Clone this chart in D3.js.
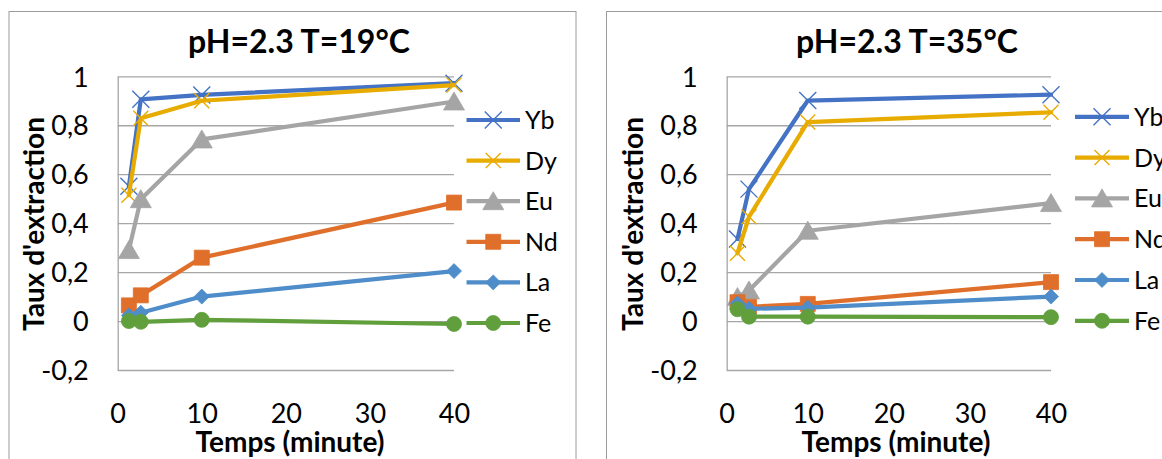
<!DOCTYPE html>
<html><head><meta charset="utf-8">
<script src="https://cdn.jsdelivr.net/npm/d3@7"></script>
<style>
html,body{margin:0;padding:0;background:#fff;overflow:hidden}
svg{display:block}
text{font-family:Lato,"Open Sans",sans-serif;fill:#000}
</style></head>
<body>
<svg id="c" width="1162" height="459"></svg>
<script>
// ---- data ----
const times = [1.33, 2.75, 10, 40];
const seriesNames = ["Yb", "Dy", "Eu", "Nd", "La", "Fe"];
const yTickValues = [-0.2, 0, 0.2, 0.4, 0.6, 0.8, 1];
const yTickLabels = ["-0,2", "0", "0,2", "0,4", "0,6", "0,8", "1"];
const xTickValues = [0, 10, 20, 30, 40];
const xTickLabels = ["0", "10", "20", "30", "40"];

const title19 = "pH=2.3 T=19°C";
const Yb19 = [0.551, 0.906, 0.924, 0.972];
const Dy19 = [0.514, 0.829, 0.900, 0.964];
const Eu19 = [0.290, 0.498, 0.742, 0.897];
const Nd19 = [0.064, 0.105, 0.259, 0.484];
const La19 = [0.023, 0.034, 0.100, 0.204];
const Fe19 = [0.000, -0.003, 0.005, -0.012];

const title35 = "pH=2.3 T=35°C";
const Yb35 = [0.335, 0.539, 0.901, 0.925];
const Dy35 = [0.277, 0.426, 0.813, 0.853];
const Eu35 = [0.098, 0.125, 0.369, 0.482];
const Nd35 = [0.077, 0.058, 0.070, 0.159];
const La35 = [0.072, 0.050, 0.055, 0.100];
const Fe35 = [0.048, 0.018, 0.018, 0.016];

const xTitle = "Temps (minute)";
const yTitle = "Taux d'extraction";

// ---- styles ----
const colors = {Yb:"#4472C4", Dy:"#E8AB00", Eu:"#A5A5A5", Nd:"#DF6F2A", La:"#4E8DC9", Fe:"#609F3C"};
const markers = {Yb:"x", Dy:"x", Eu:"tri", Nd:"sq", La:"dia", Fe:"circ"};

function markerPath(type, name){
  switch(type){
    case "x": { const r = name === "Yb" ? 8.5 : 7.5; return `M${-r},${-r}L${r},${r}M${-r},${r}L${r},${-r}`; }
    case "tri": return "M0,-9.5L10.5,8.5L-10.5,8.5Z";
    case "sq": return "M-7.5,-7.5H7.5V7.5H-7.5Z";
    case "dia": return "M0,-7.5L7.5,0L0,7.5L-7.5,0Z";
    case "circ": { const r=7.5; return `M${r},0A${r},${r} 0 1,1 ${-r},0A${r},${r} 0 1,1 ${r},0Z`; }
  }
}
function drawMarker(g, name, color, x, y){
  const type = markers[name];
  const p = g.append("path").attr("d", markerPath(type, name)).attr("transform", `translate(${x},${y})`);
  if(type === "x") p.attr("fill","none").attr("stroke",color).attr("stroke-width",1.4);
  else p.attr("fill",color).attr("stroke",color).attr("stroke-width",0.8);
}

const svg = d3.select("#c");

function chart(cfg){
  const g = svg.append("g");
  // frame
  g.append("rect").attr("x",cfg.frameX).attr("y",11.5).attr("width",567).attr("height",470)
    .attr("fill","#fff").attr("stroke","#9c9c9c").attr("stroke-width",1);

  const x = d3.scaleLinear().domain([0,40]).range([cfg.px0, cfg.px1]);
  const y = d3.scaleLinear().domain([-0.2,1]).range([370, 76.3]);

  // y axis with gridlines
  const ya = g.append("g").attr("transform",`translate(${cfg.px0},0)`)
    .call(d3.axisLeft(y).tickValues(yTickValues).tickFormat((d,i)=>yTickLabels[i])
      .tickSizeInner(-(cfg.px1-cfg.px0)).tickSizeOuter(0).tickPadding(29));
  ya.select(".domain").attr("stroke","#a6a6a6").attr("stroke-width",1.3);
  ya.selectAll(".tick line").attr("stroke","#a6a6a6").attr("stroke-width",1.3);
  ya.selectAll(".tick text").attr("font-size",27).attr("dy","0.36em").attr("fill","#000")
    .style("font-family","Lato");

  // x axis labels
  const xa = g.append("g").attr("transform",`translate(0,370)`)
    .call(d3.axisBottom(x).tickValues(xTickValues).tickFormat((d,i)=>xTickLabels[i]).tickSize(0));
  xa.select(".domain").remove();
  xa.selectAll(".tick text").attr("font-size",27).attr("y",53).attr("dy",0).attr("fill","#000")
    .style("font-family","Lato");

  // titles
  g.append("text").attr("x",cfg.titleX).attr("y",53).attr("text-anchor","middle")
    .attr("font-size",32).attr("font-weight","bold").text(cfg.title);
  g.append("text").attr("x",cfg.xTitleX).attr("y",452).attr("text-anchor","middle")
    .attr("font-size",28).attr("font-weight","bold").text(xTitle);
  g.append("text").attr("transform",`translate(${cfg.yTitleX},224) rotate(-90)`).attr("text-anchor","middle")
    .attr("font-size",28).attr("font-weight","bold").text(yTitle);

  // series
  const line = d3.line().x((d,i)=>x(times[i])).y(d=>y(d));
  cfg.series.forEach((vals, si) => {
    const name = seriesNames[si], col = colors[name];
    g.append("path").attr("d", line(vals)).attr("fill","none").attr("stroke",col)
      .attr("stroke-width",4.2).attr("stroke-linejoin","round").attr("stroke-linecap","round");
    vals.forEach((v,i)=> drawMarker(g, name, col, x(times[i]), y(v)));
  });

  // legend
  seriesNames.forEach((name, i) => {
    const ly = cfg.legY0 + i*cfg.legDy, col = colors[name];
    g.append("line").attr("x1",cfg.legX1).attr("x2",cfg.legX2).attr("y1",ly).attr("y2",ly)
      .attr("stroke",col).attr("stroke-width",4.2);
    drawMarker(g, name, col, (cfg.legX1+cfg.legX2)/2, ly);
    g.append("text").attr("x",cfg.legX2+5).attr("y",ly).attr("dy","0.36em")
      .attr("font-size",25).text(name);
  });
}

chart({frameX:9, px0:117.7, px1:454, title:title19, titleX:299, xTitleX:290, yTitleX:44,
  legX1:466.5, legX2:520, legY0:120, legDy:40.6,
  series:[Yb19, Dy19, Eu19, Nd19, La19, Fe19]});
chart({frameX:606.5, px0:726.7, px1:1051, title:title35, titleX:907, xTitleX:896, yTitleX:643,
  legX1:1075, legX2:1129, legY0:116.8, legDy:40.8,
  series:[Yb35, Dy35, Eu35, Nd35, La35, Fe35]});
</script>
</body></html>
